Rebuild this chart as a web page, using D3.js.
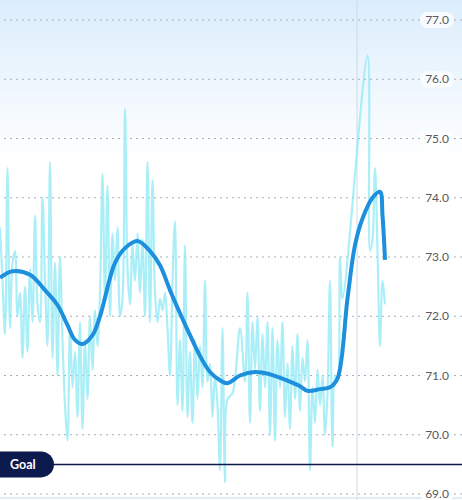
<!DOCTYPE html>
<html>
<head>
<meta charset="utf-8">
<script src="https://cdn.jsdelivr.net/npm/d3@7"></script>
<style>
  html, body { margin: 0; padding: 0; background: #fff; }
  #chart { width: 462px; height: 500px; }
</style>
</head>
<body>
<div id="chart"></div>
<script>
// Set up dimensions
const width = 462, height = 500;

// Daily readings (day index, value)
const rawDays = [
  0,1,2,3,4,5,6,7,8,9,10,11,12,13,14,15,16,17,18,19,20,21,22,23,24,25,26,27,28,29,30,
  31,32,33,34,35,36,37,38,39,40,41,42,43,44,45,
  46,47,48,49,50,51,52,53,54,55,56,57,58,59,60,
  61,62,63,64,65,66,67,68,69,70,71,72,73,74,75,
  76,77,78,79,80,81,82,83,84,85,86,87,88,89,90,
  91,93,96,98,
  99,100,101,102,103,104,105,106,107,108,109,110,111,112,113,114,115,
  116,117,118,119,120,121,122,123,124,125,126,127,128,129,130,131,132,
  133,134,135,136,137,147,148,149,150,151,152,153,154
];
const rawValues = [
  73.5,72.6,71.7,74.5,71.8,72.9,73.1,72.0,72.4,71.3,72.5,71.4,72.8,71.9,73.7,72.2,71.9,74.0,72.6,71.5,74.6,71.3,72.9,71.0,73.0,71.6,70.5,69.9,71.8,70.8,71.4,
  70.3,71.9,70.1,71.6,70.6,72.0,71.1,72.1,71.5,72.4,74.4,72.3,74.2,72.0,73.4,
  72.6,73.5,72.0,72.3,75.5,72.8,72.2,73.2,72.6,73.4,72.4,73.3,72.0,74.6,71.9,
  74.3,72.4,71.9,72.3,72.1,72.4,71.8,71.0,72.6,73.6,70.5,71.6,70.4,73.2,70.3,
  71.4,70.2,71.6,70.6,71.5,70.8,72.6,70.9,71.2,70.3,71.0,70.5,69.4,71.8,69.2,
  70.6,70.7,71.8,70.9,
  72.4,70.2,71.9,71.1,72.0,70.4,71.7,70.8,71.9,70.0,71.8,69.9,71.6,70.8,71.9,70.3,71.2,
  70.1,71.5,70.6,71.7,70.4,71.3,70.9,71.6,69.4,70.8,70.2,71.1,70.5,71.0,70.0,70.7,72.6,
  69.8,71.0,70.9,73.0,72.3,76.4,73.1,73.3,74.5,73.1,71.5,72.6,72.2
];

// Trend line (day index, value)
const trendDays = [0,5,12,18,23,27,30,33,37,40,46,50,55,60,64,68,72,76,80,84,88,91,96,102,108,114,120,123,128,132,135,139,142,145,149,152,153,154];
const trendValues = [72.65,72.76,72.7,72.44,72.19,71.85,71.6,71.53,71.68,72.0,72.9,73.15,73.27,73.1,72.86,72.44,72.05,71.68,71.33,71.06,70.92,70.87,71.0,71.06,71.02,70.93,70.82,70.74,70.77,70.8,70.95,72.3,73.2,73.65,74.0,74.1,73.7,72.95];

// Axis ticks and goal
const yTicks = [69, 70, 71, 72, 73, 74, 75, 76, 77];
const goalValue = 69.5;
const markerDay = 142.8;

const x = d3.scaleLinear().domain([0, 154]).range([0, 385]);
const y = d3.scaleLinear().domain([69, 77]).range([494, 20]);

const svg = d3.select("#chart")
  .append("svg")
  .attr("width", width)
  .attr("height", height)
  .attr("viewBox", [0, 0, width, height])
  .style("font-family", "Lato, 'Open Sans', sans-serif");

// Background gradient
const defs = svg.append("defs");
const grad = defs.append("linearGradient")
  .attr("id", "bg")
  .attr("x1", 0).attr("y1", 0).attr("x2", 0).attr("y2", 1);
grad.append("stop").attr("offset", "0%").attr("stop-color", "#dbedfc");
grad.append("stop").attr("offset", "32%").attr("stop-color", "#ffffff");
grad.append("stop").attr("offset", "100%").attr("stop-color", "#ffffff");

svg.append("rect")
  .attr("width", width)
  .attr("height", height)
  .attr("fill", "url(#bg)");

// Grid lines
svg.append("g")
  .selectAll("line")
  .data(yTicks)
  .join("line")
  .attr("x1", 4)
  .attr("x2", width)
  .attr("y1", d => y(d))
  .attr("y2", d => y(d))
  .attr("stroke", "#a9adb2")
  .attr("stroke-width", 1.2)
  .attr("stroke-dasharray", "2,4");

// Vertical marker
svg.append("line")
  .attr("x1", x(markerDay)).attr("x2", x(markerDay))
  .attr("y1", 0).attr("y2", height)
  .attr("stroke", "#c8dce8")
  .attr("stroke-width", 1);

// Bottom border
svg.append("line")
  .attr("x1", 0).attr("x2", width)
  .attr("y1", 498).attr("y2", 498)
  .attr("stroke", "#d8e6f0")
  .attr("stroke-width", 1.5);

// Raw readings
const rawData = rawDays.map((d, i) => [d, rawValues[i]]);
svg.append("path")
  .datum(rawData)
  .attr("fill", "none")
  .attr("stroke", "#8ee9f5")
  .attr("stroke-opacity", 0.75)
  .attr("stroke-width", 2.2)
  .attr("stroke-linejoin", "round")
  .attr("d", d3.line()
    .x(d => x(d[0]))
    .y(d => y(d[1]))
    .curve(d3.curveCatmullRom.alpha(0.5)));

// Goal line
svg.append("line")
  .attr("x1", 0).attr("x2", width)
  .attr("y1", y(goalValue)).attr("y2", y(goalValue))
  .attr("stroke", "#0c1a48")
  .attr("stroke-width", 1.5);

// Trend line
const trendData = trendDays.map((d, i) => [d, trendValues[i]]);
svg.append("path")
  .datum(trendData)
  .attr("fill", "none")
  .attr("stroke", "#1e8fdd")
  .attr("stroke-width", 4)
  .attr("stroke-linejoin", "round")
  .attr("d", d3.line()
    .x(d => x(d[0]))
    .y(d => y(d[1]))
    .curve(d3.curveCatmullRom.alpha(0.5)));

// Goal pill
const gy = y(goalValue);
svg.append("path")
  .attr("d", `M-2,${gy - 13} H41 A13,13 0 0 1 41,${gy + 13} H-2 Z`)
  .attr("fill", "#0c1a4e");
svg.append("text")
  .attr("x", 10)
  .attr("y", gy)
  .attr("dy", "0.35em")
  .attr("fill", "#fff")
  .attr("font-size", 12.5)
  .attr("font-weight", 700)
  .text("Goal");

// Y labels with soft pills
const labels = svg.append("g")
  .selectAll("g")
  .data(yTicks)
  .join("g")
  .attr("transform", d => `translate(437,${y(d)})`);
labels.append("rect")
  .attr("x", -17).attr("y", -8)
  .attr("width", 34).attr("height", 16)
  .attr("rx", 8)
  .attr("fill", "#fff")
  .attr("fill-opacity", 0.75);
labels.append("text")
  .attr("text-anchor", "middle")
  .attr("dy", "0.35em")
  .attr("fill", "#5a5a5a")
  .attr("font-size", 12)
  .text(d => d.toFixed(1));
</script>
</body>
</html>
